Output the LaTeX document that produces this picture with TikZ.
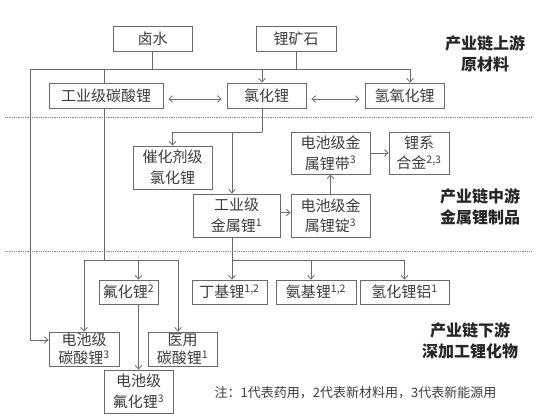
\documentclass[tikz,border=0pt]{standalone}
\usepackage{fontspec}
\setmainfont{Noto Sans CJK SC}
\usetikzlibrary{arrows.meta,positioning}
\definecolor{linegray}{HTML}{6A6A6A}
\definecolor{textgray}{HTML}{3C3C3C}
\tikzset{
box/.style={
  draw=linegray,
  line width=0.9pt,
  text=textgray,
  inner sep=0pt,
  align=center,
  font=\fontsize{15}{20.5}\selectfont
  },
tightbox/.style={
  box,
  font=\fontsize{15}{18}\selectfont
  },
conn/.style={
  draw=linegray,
  line width=0.8pt
  },
sep/.style={
  draw=linegray!80,
  line width=0.8pt,
  densely dotted
  },
stage/.style={
  text=black!85,
  align=center,
  font=\fontsize{16}{21}\selectfont\bfseries
  }
}
\begin{document}
\begin{tikzpicture}[x=1pt,y=-1pt,>={Straight Barb[length=3.5pt,width=6.5pt]}]
\useasboundingbox (0,0) rectangle (541,419);

% upstream
\node[box,minimum width=79,minimum height=25] (lushui) at (152.5,38.5) {卤水};
\node[box,minimum width=80,minimum height=25] (likuang) at (296,38.5) {锂矿石};
\node[box,minimum width=114,minimum height=25] (gytan) at (106,95.5) {工业级碳酸锂};
\node[box,minimum width=79,minimum height=25] (luhua) at (266.5,95.5) {氯化锂};
\node[box,minimum width=79,minimum height=25] (qingyang) at (404.5,95.5) {氢氧化锂};

% midstream
\node[box,minimum width=79,minimum height=43] (cuihua) at (172.5,167.5) {催化剂级\\氯化锂};
\node[box,minimum width=87,minimum height=43] (gyjin) at (236.5,215.5) {工业级\\金属锂\textsuperscript{1}};
\node[box,minimum width=79,minimum height=43] (dcding) at (330.5,215.5) {电池级金\\属锂锭\textsuperscript{3}};
\node[box,minimum width=79,minimum height=42] (dcdai) at (330.5,153) {电池级金\\属锂带\textsuperscript{3}};
\node[box,minimum width=60,minimum height=42] (lixi) at (419,153) {锂系\\合金\textsuperscript{2,3}};

% downstream
\node[box,minimum width=59,minimum height=24] (fuhua) at (128.5,292) {氟化锂\textsuperscript{2}};
\node[box,minimum width=75,minimum height=24] (dingji) at (229.5,292) {丁基锂\textsuperscript{1,2}};
\node[box,minimum width=80,minimum height=24] (anji) at (316,292) {氨基锂\textsuperscript{1,2}};
\node[box,minimum width=89,minimum height=24] (qinglv) at (404.5,292) {氢化锂铝\textsuperscript{1}};
\node[tightbox,minimum width=70,minimum height=34] (dctan) at (84,349) {电池级\\碳酸锂\textsuperscript{3}};
\node[tightbox,minimum width=69,minimum height=34] (yytan) at (182.5,349) {医用\\碳酸锂\textsuperscript{1}};
\node[box,minimum width=69,minimum height=43] (dcfu) at (138.5,391.5) {电池级\\氟化锂\textsuperscript{3}};

% stage labels
\node[stage] (up) at (485,53.5) {产业链上游\\原材料};
\node[stage] (mid) at (480,207) {产业链中游\\金属锂制品};
\node[stage] (down) at (470,340.5) {产业链下游\\深加工锂化物};
\node[text=textgray,font=\fontsize{13}{15}\selectfont] (note) at (355.5,393)
  {注：1代表药用，2代表新材料用，3代表新能源用};

% section separators
\draw[sep] (5,117) -- (532,117);
\draw[sep] (5,251) -- (532,251);

% junctions
\coordinate (topl) at (30,69);
\coordinate (topr) at (410,69);
\coordinate (luin) at (262,69);
\coordinate (gyin) at (104,69);
\coordinate (luturn) at (262,132);
\coordinate (gyv) at (232,132);
\coordinate (busl) at (104,260);
\coordinate (busm) at (232,260);

\draw[conn] (lushui.south) -- (lushui.south |- topl);
\draw[conn] (likuang.south) -- (likuang.south |- topl);
\draw[conn] (topl) -- (topr);
\draw[conn,->] (topr) -- (topr |- qingyang.north);
\draw[conn,->] (luin) -- (luin |- luhua.north);
\draw[conn] (gyin) -- (gyin |- gytan.north);
\draw[conn,->] (topl) |- ([yshift=9pt]dctan.west);

\draw[conn,<->,shorten <=5pt,shorten >=5pt] ([yshift=-3.5pt]gytan.east) -- ([yshift=-3.5pt]luhua.west);
\draw[conn,<->,shorten <=5pt,shorten >=5pt] ([yshift=-3.5pt]luhua.east) -- ([yshift=-3.5pt]qingyang.west);

\draw[conn] (luhua.south -| luturn) -- (luturn);
\draw[conn,->] (luturn) -| (cuihua.north);
\draw[conn,->] (gyv) -- (gyv |- gyjin.north);
\draw[conn,->] ([yshift=3pt]gyjin.east) -- ([yshift=3pt]dcding.west);
\draw[conn,->] (dcding.north) -- (dcdai.south);
\draw[conn,->] (dcdai.east) -- (lixi.west);

\draw[conn] (gytan.south -| busl) -- (busl);
\draw[conn,->] (busl) -| (dctan.north);
\draw[conn,->] (busl) -| ([xshift=-4.5pt]yytan.north);
\draw[conn,->] (busl -| dcfu.north) -- (fuhua.north -| dcfu.north);
\draw[conn,->] (fuhua.south -| dcfu.north) -- (dcfu.north);

\draw[conn] (gyv |- gyjin.south) -- (busm);
\draw[conn,->] (busm) -- (busm |- dingji.north);
\draw[conn,->] (busm) -| ([xshift=-5pt]anji.north);
\draw[conn,->] (busm) -| (qinglv.north);
\end{tikzpicture}
\end{document}
